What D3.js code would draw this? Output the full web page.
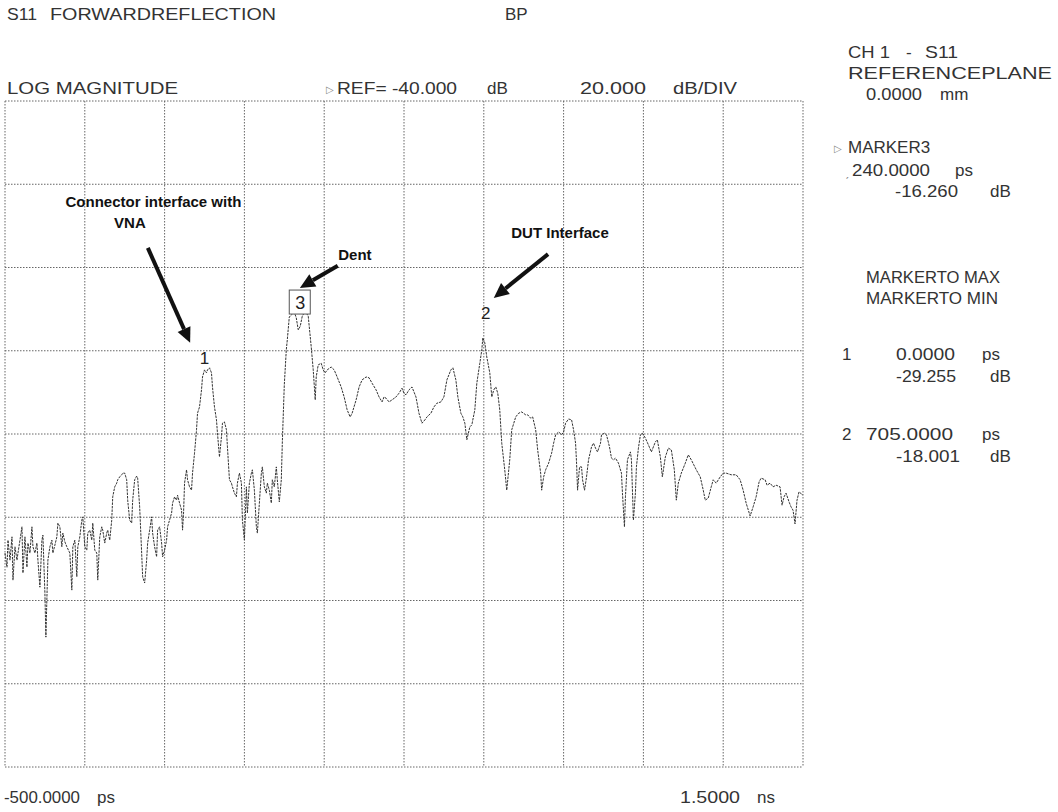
<!DOCTYPE html>
<html><head><meta charset="utf-8">
<script src="https://cdn.jsdelivr.net/npm/d3@7"></script>
<style>
body{margin:0;background:#fff}
svg{display:block}
text{font-family:"Liberation Sans",Arial,sans-serif}
</style>
</head><body>
<svg id="c" width="1058" height="812"></svg>
<script>
// ---- data ----
const timesPs = [
-500,-495,-492.5,-487.5,-482.5,-480,-475,-470,-467.5,-462.5,-457.5,-455,-450,-445,-442.5,-437.5,-432.5,-430,-425,-420,
-417.5,-412.5,-407.5,-405,-400,-397.5,-392.5,-387.5,-382.5,-380,-375,-370,-367.5,-362.5,-357.5,-355,-350,-345,-337.5,-332.5,
-330,-325,-320,-317.5,-312.5,-307.5,-305,-300,-295,-292.5,-287.5,-282.5,-280,-275,-270,-267.5,-262.5,-257.5,-255,-250,
-245,-242.5,-237.5,-232.5,-230,-225,-220,-217.5,-212.5,-207.5,-205,-200,-195,-192.5,-187.5,-182.5,-180,-175,-170,-167.5,
-162.5,-157.5,-155,-150,-145,-142.5,-137.5,-132.5,-130,-125,-120,-117.5,-112.5,-107.5,-105,-100,-95,-92.5,-82.5,-80,
-75,-70,-67.5,-62.5,-57.5,-55,-52.5,-50,-45,-42.5,-37.5,-32.5,-30,-25,-20,-17.5,-12.5,-7.5,-5,0,
5,7.5,12.5,17.5,20,25,30,32.5,37.5,42.5,45,50,55,57.5,62.5,67.5,70,75,80,82.5,
87.5,92.5,95,100,105,107.5,112.5,117.5,120,125,130,132.5,137.5,142.5,145,150,155,157.5,162.5,167.5,
170,175,180,182.5,187.5,192.5,195,200,205,207.5,212.5,217.5,225,230,235,240,245,252.5,260,267.5,
272.5,277.5,280,285,292.5,297.5,302.5,307.5,317.5,325,332.5,342.5,350,357.5,365,370,380,387.5,395,405,
412.5,420,430,437.5,445,450,455,462.5,470,480,487.5,495,500,505,512.5,520,530,537.5,545,552.5,
557.5,567.5,575,582.5,592.5,600,607.5,617.5,622.5,630,635,642.5,647.5,652.5,657.5,665,670,677.5,682.5,690,
695,697.5,702.5,707.5,715,720,725,730,735,740,745,752.5,757.5,765,770,780,787.5,795,805,810,
817.5,822.5,830,835,842.5,845,850,855,862.5,870,875,880,887.5,895,900,905,912.5,920,925,930,
932.5,935,940,945,947.5,952.5,957.5,962.5,970,975,980,985,992.5,995,1002.5,1007.5,1015,1020,1025,1030,
1037.5,1045,1047.5,1052.5,1055,1060,1067.5,1070,1075,1080,1082.5,1087.5,1092.5,1097.5,1105,1112.5,1120,1130,1135,1142.5,
1147.5,1155,1162.5,1170,1177.5,1182.5,1187.5,1195,1205,1212.5,1220,1232.5,1242.5,1250,1255,1262.5,1270,1275,1282.5,1292.5,
1300,1307.5,1320,1332.5,1342.5,1350,1357.5,1367.5,1375,1382.5,1390,1395,1405,1410,1417.5,1425,1432.5,1442.5,1447.5,1452.5,
1457.5,1465,1470,1475,1480,1485,1490,1500
];
const magDb = [
-68.6,-72.0,-65.5,-70.3,-64.7,-75.1,-67.1,-70.3,-68.6,-65.5,-62.3,-73.4,-64.7,-72.0,-66.2,-68.6,-62.3,-67.1,-68.6,-66.2,
-70.3,-76.8,-65.5,-64.3,-78.2,-88.8,-70.3,-67.1,-65.5,-68.6,-66.7,-64.7,-61.4,-62.3,-67.1,-63.8,-65.9,-67.1,-68.6,-77.5,
-67.1,-65.5,-74.3,-67.1,-64.7,-60.7,-59.9,-67.1,-67.9,-63.8,-63.1,-65.5,-61.4,-67.9,-68.6,-75.1,-64.7,-62.3,-63.1,-66.2,
-63.8,-63.1,-65.5,-60.7,-55.1,-52.7,-51.8,-51.0,-50.3,-49.8,-49.4,-49.4,-51.0,-55.9,-60.7,-61.4,-55.9,-51.0,-50.1,-50.6,
-57.5,-68.6,-74.3,-75.8,-70.3,-66.2,-63.1,-59.9,-63.8,-67.1,-69.5,-63.1,-62.3,-66.2,-69.5,-67.9,-65.5,-62.3,-59.0,-56.6,
-55.1,-55.9,-54.7,-56.6,-58.3,-63.1,-59.0,-51.8,-48.6,-51.0,-52.7,-53.5,-49.4,-44.6,-39.0,-35.0,-33.5,-29.4,-26.3,-24.6,
-25.3,-24.6,-24.1,-25.3,-28.7,-33.5,-36.6,-39.8,-45.5,-40.7,-37.4,-37.1,-39.0,-43.1,-51.0,-51.8,-52.7,-54.2,-55.1,-51.8,
-49.4,-51.8,-60.7,-65.5,-52.7,-59.0,-51.8,-49.4,-48.6,-53.5,-62.3,-63.8,-56.6,-49.4,-47.9,-52.7,-54.2,-51.8,-53.5,-56.6,
-51.0,-52.7,-47.9,-51.0,-56.3,-51.0,-42.2,-28.2,-19.8,-17.4,-11.9,-11.4,-10.7,-12.1,-15.0,-14.1,-11.7,-10.5,-11.7,-19.1,
-24.6,-31.8,-26.3,-23.4,-23.0,-24.6,-25.3,-24.6,-23.9,-24.6,-26.3,-28.7,-31.1,-34.2,-35.9,-35.0,-31.8,-28.7,-27.0,-26.3,
-26.5,-27.8,-29.4,-31.1,-32.3,-31.1,-31.4,-32.3,-31.8,-31.1,-30.2,-29.0,-30.2,-30.6,-29.4,-28.7,-31.1,-35.0,-37.4,-36.6,
-35.9,-35.0,-33.5,-32.6,-32.3,-31.1,-27.0,-24.6,-24.1,-27.0,-31.1,-35.0,-35.9,-37.4,-41.4,-38.3,-37.8,-34.2,-27.8,-23.0,
-19.8,-16.9,-18.1,-21.5,-25.3,-31.1,-29.4,-28.7,-30.2,-34.2,-42.2,-48.6,-53.5,-46.2,-39.0,-35.9,-35.0,-34.7,-35.4,-35.4,
-36.2,-35.9,-39.0,-43.8,-49.4,-53.5,-50.3,-48.6,-47.0,-44.6,-42.2,-40.2,-39.5,-40.2,-39.5,-37.4,-36.4,-36.6,-39.0,-42.2,
-47.0,-53.5,-47.9,-47.9,-51.0,-53.5,-50.3,-46.2,-43.1,-42.2,-43.4,-44.3,-42.2,-40.2,-39.8,-40.2,-43.1,-45.8,-46.2,-45.8,
-47.0,-49.4,-54.2,-62.3,-55.1,-46.2,-44.3,-46.2,-60.7,-54.2,-47.9,-43.4,-40.2,-39.8,-41.0,-42.6,-44.3,-41.9,-41.4,-45.5,
-50.3,-45.5,-43.4,-43.8,-48.6,-55.9,-51.8,-49.4,-47.0,-45.0,-46.2,-48.6,-50.3,-53.5,-55.9,-55.4,-52.7,-51.0,-51.8,-50.3,
-49.4,-49.4,-49.8,-49.8,-51.0,-53.5,-56.6,-59.7,-57.5,-55.1,-51.5,-50.6,-51.0,-52.3,-51.8,-52.7,-52.3,-52.7,-57.1,-55.1,
-54.2,-56.3,-57.5,-58.3,-61.6,-55.9,-53.9,-54.7
];
const xTickPs = [-500,-300,-100,100,300,500,700,900,1100,1300,1500];
const yTickDb = [40,20,0,-20,-40,-60,-80,-100,-120];
const markerIds = ["1","2","3"];
const markerTimesPs = [0,705,240];
const markerLabelDb = [-23.2,-12.4,-8.3];
const noteTexts = ["Connector interface with","VNA","Dent","DUT Interface"];
const noteTimesPs = [-128,-187,377,891];
const noteDb = [14.6,9.4,1.8,7.2];
const arrowTailPs = [-142,334,861];
const arrowTailDb = [4.7,0.4,3.2];
const arrowHeadPs = [-36,239,725];
const arrowHeadDb = [-18.1,-4.9,-7.3];

// ---- layout ----
const svg = d3.select("#c");
const plotL=5, plotR=803, plotT=101, plotB=767;
const x = d3.scaleLinear().domain([-500,1500]).range([plotL,plotR]);
const y = d3.scaleLinear().domain([40,-120]).range([plotT,plotB]);

// grid
const g = svg.append("g");
g.selectAll("line.v").data(xTickPs).join("line")
  .attr("x1",d=>x(d)).attr("x2",d=>x(d)).attr("y1",plotT).attr("y2",plotB)
  .attr("stroke","#666").attr("stroke-width",1).attr("stroke-dasharray","1.5 1.5");
g.selectAll("line.h").data(yTickDb).join("line")
  .attr("x1",plotL).attr("x2",plotR).attr("y1",d=>y(d)).attr("y2",d=>y(d))
  .attr("stroke","#666").attr("stroke-width",1).attr("stroke-dasharray","1.5 1.5");

// trace
const pts = timesPs.map((t,i)=>[t,magDb[i]]);
svg.append("path").datum(pts)
  .attr("d",d3.line().x(d=>x(d[0])).y(d=>y(d[1])))
  .attr("fill","none").attr("stroke","#333").attr("stroke-width",1)
  .attr("stroke-dasharray","2.5 1");

// markers
markerIds.forEach((id,i)=>{
  const mx=x(markerTimesPs[i]), my=y(markerLabelDb[i]);
  if(id==="3"){
    svg.append("rect").attr("x",mx-11).attr("y",my-12).attr("width",21).attr("height",24)
      .attr("fill","#fff").attr("stroke","#555").attr("stroke-width",1);
    svg.append("text").attr("x",mx).attr("y",my+7).attr("text-anchor","middle")
      .attr("font-size",18).attr("fill","#222").text(id);
  } else {
    svg.append("text").attr("x",mx).attr("y",my).attr("text-anchor","middle")
      .attr("font-size",17).attr("fill","#222").text(id);
  }
});

// annotations
noteTexts.forEach((t,i)=>{
  svg.append("text").attr("x",x(noteTimesPs[i])).attr("y",y(noteDb[i]))
    .attr("text-anchor","middle").attr("font-size",15).attr("font-weight","bold")
    .attr("fill","#111").text(t);
});
arrowTailPs.forEach((t,i)=>{
  const x1=x(t), y1=y(arrowTailDb[i]), x2=x(arrowHeadPs[i]), y2=y(arrowHeadDb[i]);
  const ang=Math.atan2(y2-y1,x2-x1), L=15, W=7;
  const bx=x2-L*Math.cos(ang), by=y2-L*Math.sin(ang);
  svg.append("line").attr("x1",x1).attr("y1",y1).attr("x2",bx).attr("y2",by)
    .attr("stroke","#111").attr("stroke-width",4);
  const px=-Math.sin(ang), py=Math.cos(ang);
  svg.append("polygon").attr("points",[[x2,y2],[bx+W*px,by+W*py],[bx-W*px,by-W*py]].map(p=>p.join(",")).join(" "))
    .attr("fill","#111");
});

// header & side texts (x0..x1 = measured extent; null = natural width)
const txt=(s,x0,x1,ty,opt={})=>{
  const t=svg.append("text").attr("x",x0).attr("y",ty)
    .attr("font-size",opt.size||17).attr("fill",opt.fill||"#333").text(s);
  if(x1!==null) t.attr("textLength",x1-x0).attr("lengthAdjust","spacingAndGlyphs");
  return t;
};
txt("S11",7,37,20);
txt("FORWARDREFLECTION",50,276,20);
txt("BP",505,null,20);
txt("LOG MAGNITUDE",7,178,94);
txt("\u25B7",326,null,93,{size:10,fill:"#888"});
txt("REF= -40.000",337,457,94);
txt("dB",487,null,94);
txt("20.000",580,646,94);
txt("dB/DIV",673,737,94);
txt("CH 1",848,890,58);
txt("-",906,null,58);
txt("S11",925,958,58);
txt("REFERENCEPLANE",848,1052,79);
txt("0.0000",866,922,100); txt("mm",940,null,100);
txt("\u25B7",834,null,152,{size:10,fill:"#888"});
txt("MARKER3",848,null,153);
txt("\u02CF",845,null,176,{size:12,fill:"#888"});
txt("240.0000",852,930,176); txt("ps",955,null,176);
txt("-16.260",895,958,197); txt("dB",990,null,197);
txt("MARKERTO MAX",866,1000,283);
txt("MARKERTO MIN",866,998,304);
txt("1",842,null,360); txt("0.0000",896,955,360); txt("ps",982,null,360);
txt("-29.255",896,956,382); txt("dB",990,null,382);
txt("2",842,null,440); txt("705.0000",866,953,440); txt("ps",982,null,440);
txt("-18.001",896,960,462); txt("dB",990,null,462);
txt("-500.0000",4,80,803); txt("ps",97,null,803);
txt("1.5000",680,740,803); txt("ns",757,null,803);
</script>
</body></html>
